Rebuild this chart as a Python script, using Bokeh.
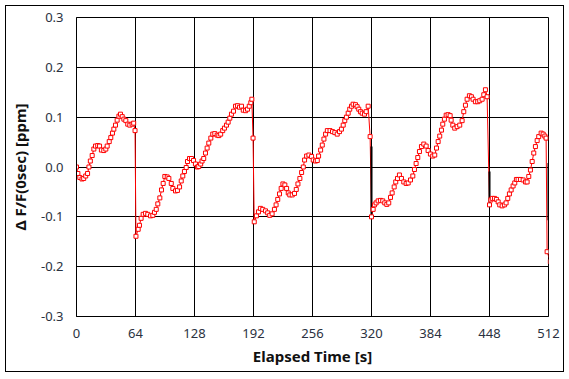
from bokeh.plotting import figure
from bokeh.models import FixedTicker, Range1d, ColumnDataSource
from bokeh.embed import file_html
from bokeh.resources import INLINE

# ---- data ----
time_s = [
    0, 1.5, 3.6, 6, 7.8, 10, 12, 13.5, 15, 17, 18.8, 20.6, 23, 25, 27, 29.6, 31.8, 33.3, 35.5, 37.2,
    39, 40.5, 42.3, 44.1, 46, 47.7, 49.6, 51.4, 53.5, 55.6, 57.8, 60.3, 62, 63.5,
    64.5, 66.9, 68.3, 70.1, 72.3, 74.8, 77.3, 80.3, 82.8, 84.6, 86.5, 88.2, 90.4, 92.2, 94, 95.8,
    98.4, 100.2, 102.8, 104.5, 107.4, 109.5, 111.8, 113.6, 115.3, 117.1, 119, 120.4, 122.6, 124.7,
    126.9, 129, 131.2, 132.6, 134.7, 136.2, 138, 139.9, 141.7, 143.5, 145.7, 147.8, 150, 152.6,
    154.4, 156.4, 158.6, 160.5, 162.7, 164.5, 166.3, 168.1, 170.3, 172.5, 174.7, 176.8, 179, 180.9,
    183.4, 185.5, 187.4, 189.1, 190.2, 191.5,
    192.8, 195.2, 197.4, 199.5, 202, 205, 207.4, 209.6, 212.2, 214.7, 216.5, 218.3, 220.2, 222,
    223.9, 226, 227.9, 229.7, 231.4, 234, 236.5, 238.4, 240.2, 242.3, 244.2, 246, 247.4, 249.6,
    252.1, 255, 256.8, 259.3, 261.2, 262.6, 264.8, 266.6, 268.4, 270.2, 272.1, 275, 277.7, 280.2,
    282.8, 285.3, 287.4, 289.3, 291, 292.8, 294.7, 296.4, 298.3, 300.1, 302.6, 304.4, 306.2, 308,
    309.9, 312.4, 314.2, 316.4, 318.5,
    320, 321.8, 323.2, 325, 327.2, 329.7, 332.2, 334.4, 336.6, 338.7, 340.6, 342.4, 344.6, 346.3,
    348.2, 350.3, 352.5, 355, 357.6, 359.8, 362.3, 364.8, 366.6, 368.4, 370.2, 372, 374.2, 376.7,
    379.3, 381.4, 383.9, 386.4, 388.6, 390.5, 392.3, 394, 395.9, 397.3, 399.1, 401, 403.1, 405.3,
    406.4, 408.2, 410.3, 412.9, 415.7, 418.3, 420.1, 421.9, 423.7, 426.2, 428.4, 430.2, 432.7,
    435.2, 437.4, 440, 441.8, 443.6, 445.4,
    448, 449.5, 451, 453.4, 455.5, 457.4, 459.1, 461.7, 464.2, 466, 467.8, 469.6, 471.5, 473.6,
    475.4, 477.2, 479, 481.6, 484.5, 487, 488.8, 490.6, 492.4, 494.3, 496, 497.8, 499.7, 501.4,
    504, 506.2, 508, 509.4, 510.5, 514,
]
delta_ppm = [
    0.0, -0.013, -0.021, -0.024, -0.023, -0.018, -0.013, 0.0, 0.012, 0.023, 0.036, 0.042, 0.043, 0.042,
    0.034, 0.033, 0.036, 0.042, 0.051, 0.059, 0.068, 0.076, 0.084, 0.094, 0.102, 0.106, 0.101, 0.096,
    0.093, 0.086, 0.084, 0.086, 0.088, 0.073,
    -0.139, -0.125, -0.117, -0.103, -0.095, -0.093, -0.095, -0.098, -0.097, -0.091, -0.085, -0.074,
    -0.062, -0.046, -0.033, -0.019, -0.020, -0.023, -0.033, -0.043, -0.048, -0.047, -0.040, -0.028,
    -0.018, -0.009, -0.001, 0.011, 0.017, 0.017, 0.013, 0.006, 0.0, 0.001, 0.006, 0.012, 0.017, 0.028,
    0.038, 0.048, 0.058, 0.066, 0.067, 0.064, 0.063, 0.066, 0.073, 0.078, 0.084, 0.090, 0.098, 0.106,
    0.112, 0.122, 0.123, 0.120, 0.122, 0.114, 0.113, 0.116, 0.122, 0.129, 0.136, 0.058,
    -0.110, -0.098, -0.090, -0.083, -0.085, -0.088, -0.092, -0.097, -0.094, -0.085, -0.076, -0.065,
    -0.054, -0.043, -0.034, -0.036, -0.043, -0.052, -0.056, -0.056, -0.053, -0.045, -0.034, -0.023,
    -0.011, 0.0, 0.014, 0.022, 0.024, 0.021, 0.014, 0.012, 0.013, 0.022, 0.034, 0.044, 0.056, 0.066,
    0.073, 0.073, 0.071, 0.069, 0.066, 0.071, 0.076, 0.084, 0.093, 0.100, 0.108, 0.116, 0.122, 0.126,
    0.125, 0.121, 0.116, 0.111, 0.108, 0.106, 0.111, 0.122, 0.061,
    -0.100, -0.085, -0.076, -0.072, -0.068, -0.067, -0.068, -0.072, -0.075, -0.072, -0.061, -0.052,
    -0.040, -0.030, -0.023, -0.016, -0.023, -0.030, -0.033, -0.032, -0.026, -0.018, -0.005, 0.007,
    0.019, 0.031, 0.041, 0.046, 0.042, 0.033, 0.026, 0.022, 0.024, 0.038, 0.051, 0.062, 0.074, 0.086,
    0.096, 0.104, 0.105, 0.103, 0.094, 0.084, 0.078, 0.081, 0.084, 0.093, 0.111, 0.124, 0.136, 0.143,
    0.141, 0.136, 0.131, 0.131, 0.133, 0.136, 0.145, 0.155, 0.141,
    -0.076, -0.066, -0.063, -0.063, -0.065, -0.070, -0.076, -0.078, -0.076, -0.072, -0.063, -0.054,
    -0.046, -0.038, -0.032, -0.025, -0.025, -0.025, -0.026, -0.030, -0.030, -0.019, -0.006, 0.011,
    0.028, 0.041, 0.053, 0.061, 0.068, 0.066, 0.062, 0.058, -0.170, -0.190,
]

# black reset segments visible at some of the jumps
reset_t = [320, 448, 512]
reset_hi = [0.041, -0.009, 0.008]
reset_lo = [-0.100, -0.076, -0.107]

x_ticks = [0, 64, 128, 192, 256, 320, 384, 448, 512]
y_ticks = [-0.3, -0.2, -0.1, 0.0, 0.1, 0.2, 0.3]
y_tick_labels = {-0.3: "-0.3", -0.2: "-0.2", -0.1: "-0.1", 0.0: "0.0", 0.1: "0.1", 0.2: "0.2", 0.3: "0.3"}

FONT = "Noto Sans"
TICK_COLOR = "#2a3140"

p = figure(
    output_backend="svg", toolbar_location=None,
    frame_width=472, frame_height=299,
    min_border_left=70, min_border_right=15, min_border_top=11, min_border_bottom=55,
    x_range=Range1d(0, 512), y_range=Range1d(-0.3, 0.3),
    background_fill_color="white", border_fill_color="white",
)
p.margin = (5, 0, 0, 5)
p.styles = {"border": "1px solid #000000"}

p.outline_line_color = "black"
p.outline_line_width = 1

p.xaxis.ticker = FixedTicker(ticks=x_ticks)
p.yaxis.ticker = FixedTicker(ticks=y_ticks)
p.yaxis.major_label_overrides = y_tick_labels

for ax in (p.xaxis, p.yaxis):
    ax.major_tick_line_color = None
    ax.minor_tick_line_color = None
    ax.major_tick_out = 0
    ax.major_tick_in = 0
    ax.axis_line_color = "black"
    ax.major_label_text_font = FONT
    ax.major_label_text_font_size = "13px"
    ax.major_label_text_color = TICK_COLOR
    ax.axis_label_text_font = FONT
    ax.axis_label_text_font_size = "15px"
    ax.axis_label_text_font_style = "bold"
    ax.axis_label_text_color = "#111111"

p.xaxis.axis_label = "Elapsed Time [s]"
p.yaxis.axis_label = "Δ F/F(0sec) [ppm]"
p.xaxis.major_label_standoff = 12
p.yaxis.major_label_standoff = 13
p.xaxis.axis_label_standoff = 5
p.yaxis.axis_label_standoff = 8

p.xgrid.ticker = FixedTicker(ticks=x_ticks)
p.ygrid.ticker = FixedTicker(ticks=y_ticks)
for g in (p.xgrid, p.ygrid):
    g.grid_line_color = "black"
    g.grid_line_width = 1
    g.grid_line_alpha = 1.0

src = ColumnDataSource(dict(t=time_s, v=delta_ppm))
p.line("t", "v", source=src, line_color="#ff0000", line_width=1)
p.segment(x0=reset_t, y0=reset_hi, x1=reset_t, y1=reset_lo, line_color="black", line_width=2)
p.scatter("t", "v", source=src, marker="square", size=4, line_color="#ff0000",
          fill_color="white", line_width=1)

open("out.html", "w").write(file_html(p, INLINE))
